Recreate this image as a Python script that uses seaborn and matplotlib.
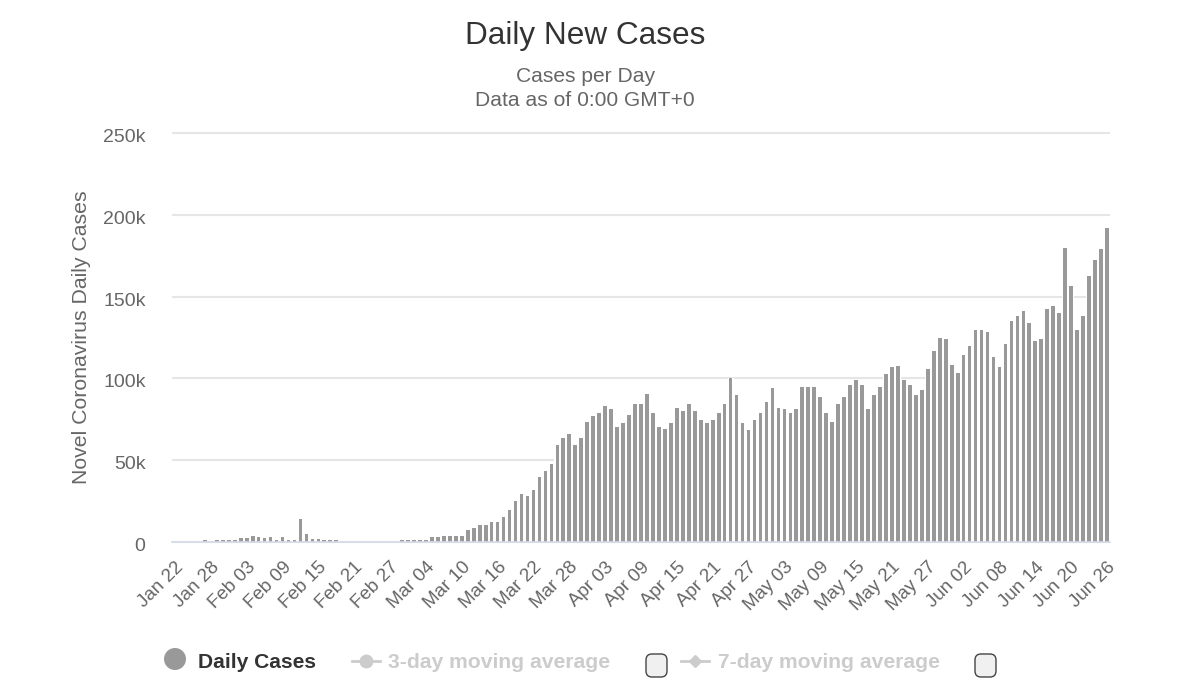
import pandas as pd
import matplotlib
matplotlib.use('Agg')
import matplotlib.pyplot as plt
import seaborn as sns
from matplotlib.lines import Line2D
from matplotlib.patches import FancyBboxPatch, Ellipse
from matplotlib.transforms import ScaledTranslation

# Daily values, Jan 22 to Jun 26
jan_cases = [300, 300, 300, 300, 300, 1500, 200, 1500, 1500, 1500]
feb_cases = [1500, 2500, 2500, 3500, 2800, 2500, 2800, 1500, 2800, 1500, 1500, 14000,
             5000, 1800, 1800, 1500, 1500, 1500, 300, 300, 300, 300, 300, 300, 300, 300,
             300, 300, 1500]
mar_cases = [1500, 1500, 1500, 1500, 2800, 2800, 3800, 3800, 3800, 3800, 7500, 8500,
             10500, 10500, 12200, 12200, 15500, 19800, 25000, 29300, 28300, 31600, 40000,
             43400, 47700, 59500, 63700, 66000, 59500, 63700, 73500]
apr_cases = [76800, 79000, 83000, 81000, 70000, 72500, 77800, 84300, 84300, 90600,
             79000, 70000, 69000, 72500, 82000, 80000, 84300, 80000, 74500, 72500,
             74500, 79000, 84300, 100400, 89600, 72500, 68200, 74500, 79000, 85300]
may_cases = [93900, 82000, 81000, 78800, 81000, 94900, 94900, 94900, 88600, 78800,
             73500, 84300, 88600, 96000, 99200, 96000, 81000, 89600, 94900, 102500,
             106700, 107800, 99200, 96000, 89600, 92900, 105700, 116500, 125000, 124000,
             108000]
jun_cases = [103500, 114300, 119800, 129300, 129300, 128300, 113300, 106700, 120800,
             134800, 137900, 141200, 133600, 123000, 124000, 142200, 144400, 140000,
             179900, 156200, 129300, 137900, 162600, 172300, 178800, 191900]
daily_cases = jan_cases + feb_cases + mar_cases + apr_cases + may_cases + jun_cases

days = pd.date_range('2020-01-22', '2020-06-26').strftime('%b %d').tolist()
y_ticks = [0, 50000, 100000, 150000, 200000, 250000]
y_labels = ['0', '50k', '100k', '150k', '200k', '250k']

df = pd.DataFrame({'day': days, 'cases': daily_cases})

W, H = 1200, 689
GREY = '#666666'
plt.rcParams['font.family'] = ['Liberation Sans', 'DejaVu Sans']

fig = plt.figure(figsize=(12, 6.89), dpi=100, facecolor='white')
ax = fig.add_axes([172 / W, 1 - 542 / H, 938 / W, 409 / H])

# white halo first so the gridlines break around the bars, then the bars themselves
sns.barplot(data=df, x='day', y='cases', color='white', saturation=1, width=1.0,
            linewidth=0, ax=ax, zorder=3)
sns.barplot(data=df, x='day', y='cases', color='#999999', saturation=1, width=0.62,
            linewidth=0, ax=ax, zorder=4)

ax.set_xlim(-0.5, 156.5)
ax.set_ylim(0, 250000)
ax.set_yticks(y_ticks, y_labels, fontsize=14, color=GREY)
ax.set_xticks(range(0, len(days), 6), days[::6], rotation=45, ha='right',
              rotation_mode='anchor', fontsize=13.5, color=GREY)
ax.tick_params(axis='both', length=0)
ax.tick_params(axis='y', pad=19)
ax.tick_params(axis='x', pad=12)
ax.grid(axis='y', color='#e6e6e6', linewidth=1.5, zorder=0)
for line in ax.get_ygridlines():
    line.set_clip_on(False)
    line.set_solid_capstyle('butt')
# y labels sit a little under their gridlines
for label in ax.get_yticklabels():
    label.set_transform(label.get_transform() + ScaledTranslation(0, -2.5 / 100, fig.dpi_scale_trans))
ax.set_axisbelow(True)
ax.set_xlabel('')
ax.set_ylabel('')
sns.despine(ax=ax, left=True)
ax.spines['bottom'].set_color('#d5dce8')
ax.spines['bottom'].set_linewidth(1.2)
ax.spines['bottom'].set_zorder(5)


def fx(px):
    return px / W


def fy(px):
    return 1 - px / H


# Titles
fig.text(fx(585), fy(36), 'Daily New Cases', ha='center', va='center', fontsize=22.7, color='#333333')
fig.text(fx(585), fy(76), 'Cases per Day', ha='center', va='center', fontsize=15.1, color=GREY)
fig.text(fx(585), fy(101), 'Data as of 0:00 GMT+0', ha='center', va='center', fontsize=15.1, color=GREY)
fig.text(fx(82), fy(337), 'Novel Coronavirus Daily Cases', rotation=90, ha='center', va='center',
         fontsize=15.3, color=GREY)

# Legend, laid out by hand because of the checkboxes
LEG_OFF = '#cccccc'
fig.add_artist(Ellipse((fx(175), fy(659)), 22 / W, 22 / H, transform=fig.transFigure,
                       facecolor='#999999', edgecolor='none'))
fig.text(fx(198), fy(663), 'Daily Cases', ha='left', va='center', fontsize=15.1, fontweight='bold',
         color='#333333')

fig.add_artist(Line2D([fx(352), fx(380)], [fy(661), fy(661)], transform=fig.transFigure,
                      color=LEG_OFF, linewidth=2))
fig.add_artist(Line2D([fx(366)], [fy(661)], transform=fig.transFigure, marker='o', markersize=9,
                      color=LEG_OFF, linestyle='none'))
fig.text(fx(388), fy(663), '3-day moving average', ha='left', va='center', fontsize=15.2,
         fontweight='bold', color=LEG_OFF)

fig.add_artist(Line2D([fx(681), fx(709)], [fy(661), fy(661)], transform=fig.transFigure,
                      color=LEG_OFF, linewidth=2))
fig.add_artist(Line2D([fx(695)], [fy(661)], transform=fig.transFigure, marker='D', markersize=6.5,
                      color=LEG_OFF, linestyle='none'))
fig.text(fx(718), fy(663), '7-day moving average', ha='left', va='center', fontsize=15.2,
         fontweight='bold', color=LEG_OFF)

for left in [646, 975]:
    fig.add_artist(FancyBboxPatch((left, H - 677), 21, 23, boxstyle='round,pad=0,rounding_size=6',
                                  transform=None, facecolor='#f0f0f0', edgecolor='#444444',
                                  linewidth=1.0))

fig.savefig('out.png', dpi=100, facecolor='white')
